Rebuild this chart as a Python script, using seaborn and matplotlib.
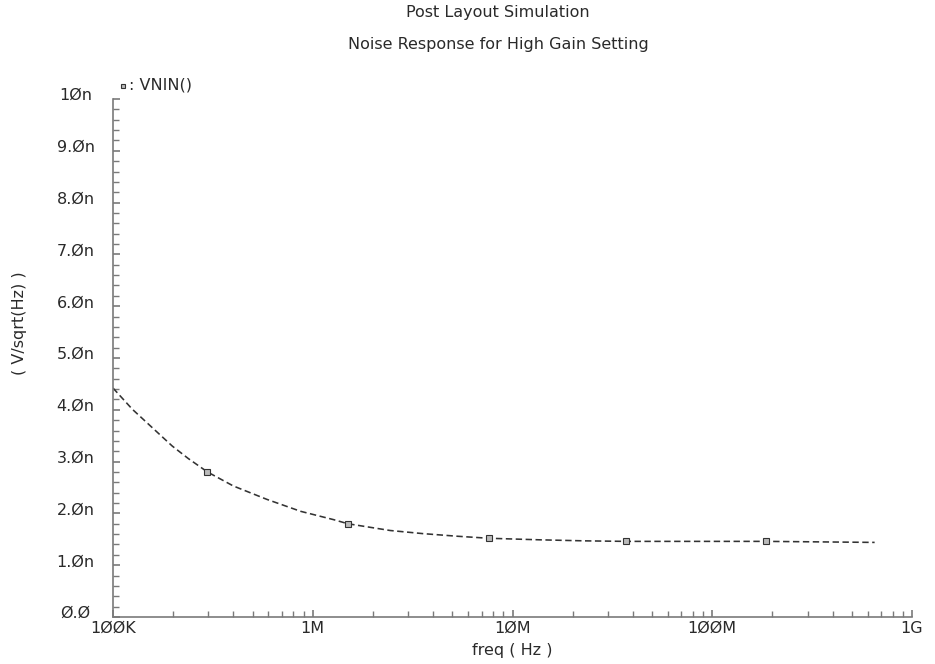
import matplotlib
matplotlib.use("Agg")
import matplotlib.pyplot as plt
import matplotlib.ticker as mticker
import matplotlib.transforms as mtransforms
import numpy as np
import pandas as pd
import seaborn as sns

# Input-referred noise at the simulator's sweep points
freq_hz = [1.0e5, 1.25e5, 1.63e5, 1.98e5, 2.38e5, 2.97e5, 4.0e5, 5.9e5,
           8.7e5, 1.27e6, 1.5e6, 2.44e6, 3.55e6, 5.25e6, 7.6e6, 1.37e7,
           2.3e7, 3.7e7, 1.85e8, 6.5e8]
vnin_nv = [4.42, 4.01, 3.60, 3.30, 3.06, 2.80, 2.53, 2.27,
           2.04, 1.88, 1.80, 1.67, 1.61, 1.56, 1.52, 1.49,
           1.47, 1.46, 1.46, 1.44]
# Points carrying the trace symbol
marked_idx = [5, 10, 14, 17, 18]

y_ticks = [0, 1, 2, 3, 4, 5, 6, 7, 8, 9, 10]
x_ticks = [1e5, 1e6, 1e7, 1e8, 1e9]
x_tick_labels = ["100K", "1M", "10M", "100M", "1G"]

title_1 = "Post Layout Simulation"
title_2 = "Noise Response for High Gain Setting"
trace_name = "VNIN()"
x_label = "freq ( Hz )"
y_label = "( V/sqrt(Hz) )"

sns.set_theme(style="white")
plt.rcParams["font.family"] = ["DejaVu Sans"]

TXT = "#2a2a2a"
AX = "#7a7a7a"


def slashed(s):
    return s.replace("0", "\u00d8")


def y_fmt(v):
    if v == 0:
        return slashed("0.0")
    if v == 10:
        return slashed("10n")
    return slashed(f"{v:.1f}n")


df = pd.DataFrame({"freq": freq_hz, "vnin": vnin_nv})

fig = plt.figure(figsize=(9.35, 6.64), dpi=100)
ax = fig.add_axes([113 / 935, 1 - 617 / 664, (912 - 113) / 935, (617 - 99) / 664])

sns.lineplot(data=df, x="freq", y="vnin", ax=ax, color="#333333",
             linewidth=1.15, linestyle=(0, (4, 2.2)), marker="s",
             markevery=marked_idx, markersize=4, markerfacecolor="#bbbbbb",
             markeredgecolor="#333333", markeredgewidth=0.8)

ax.set_xscale("log")
ax.set_xlim(1e5, 1e9)
ax.set_ylim(0, 10)

for side in ("top", "right"):
    ax.spines[side].set_visible(False)
for side in ("left", "bottom"):
    ax.spines[side].set_color(AX)
    ax.spines[side].set_linewidth(1.2)

ax.set_yticks(y_ticks)
ax.set_yticklabels([y_fmt(v) for v in y_ticks])
ax.yaxis.set_minor_locator(mticker.MultipleLocator(0.2))
ax.set_xticks(x_ticks)
ax.set_xticklabels([slashed(t) for t in x_tick_labels])
ax.xaxis.set_minor_locator(mticker.LogLocator(base=10, subs=np.arange(2, 10)))
ax.xaxis.set_minor_formatter(mticker.NullFormatter())

ax.tick_params(axis="both", which="both", direction="in", colors=AX,
               labelcolor=TXT, labelsize=11.5, left=True, bottom=True)
ax.tick_params(axis="both", which="major", length=5, width=1.2)
ax.tick_params(axis="both", which="minor", length=4, width=1.0)
ax.tick_params(axis="y", which="major", pad=27)
ax.tick_params(axis="x", which="major", pad=3)
shift = mtransforms.ScaledTranslation(0, 3.5 / 72, fig.dpi_scale_trans)
for lbl in ax.get_yticklabels():
    lbl.set_horizontalalignment("center")
    lbl.set_transform(lbl.get_transform() + shift)

ax.set_xlabel(x_label, fontsize=11.5, color=TXT, labelpad=5)
ax.set_ylabel("")
fig.text(20 / 935, 1 - 323 / 664, y_label, rotation=90, fontsize=11.5,
         color=TXT, ha="center", va="center")

fig.text(498 / 935, 1 - 13 / 664, title_1, fontsize=11.5, color=TXT,
         ha="center", va="center")
fig.text(498 / 935, 1 - 45 / 664, title_2, fontsize=11.5, color=TXT,
         ha="center", va="center")

# Trace legend: symbol followed by the signal name
ax.plot([0.012], [1.025], transform=ax.transAxes, marker="s", markersize=3.5,
        markerfacecolor="#bbbbbb", markeredgecolor="#333333",
        markeredgewidth=0.8, clip_on=False, linestyle="none")
ax.text(0.02, 1.027, ": " + trace_name, transform=ax.transAxes,
        fontsize=11.5, color=TXT, ha="left", va="center")

fig.savefig("out.png", dpi=100, facecolor="white")
